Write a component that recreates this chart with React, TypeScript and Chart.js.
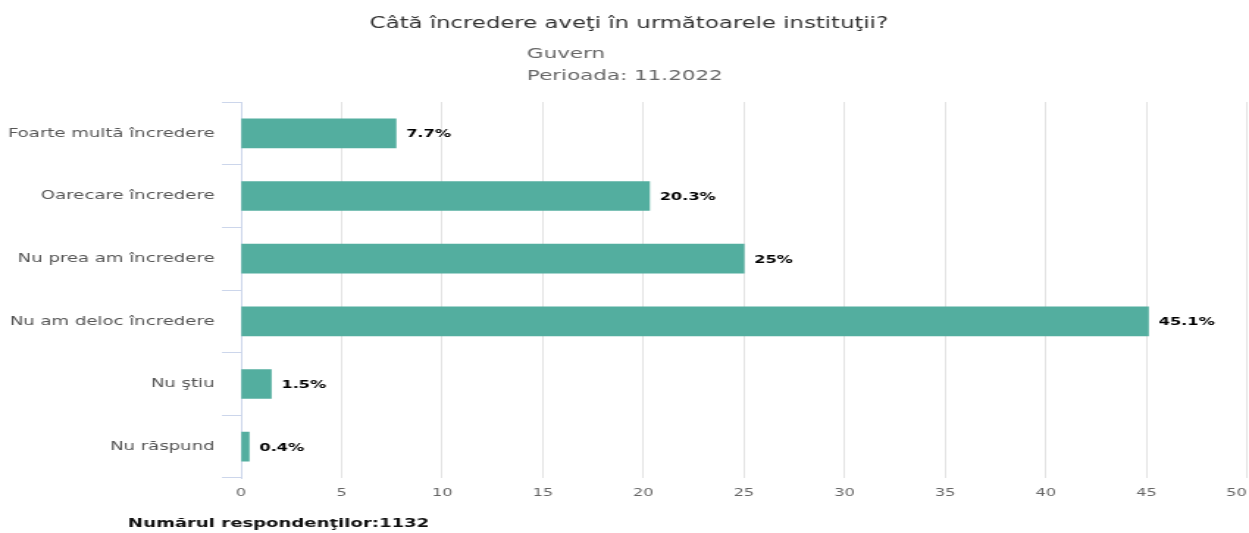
import React, { useEffect, useRef } from "react";
import { Chart, registerables } from "chart.js";

Chart.register(...registerables);

const titleText = "Câtă încredere aveţi în următoarele instituţii?";
const subtitleLines = ["Guvern", "Perioada: 11.2022"];
const footerText = "Numărul respondenţilor:1132";
const categories = [
  "Foarte multă încredere",
  "Oarecare încredere",
  "Nu prea am încredere",
  "Nu am deloc încredere",
  "Nu ştiu",
  "Nu răspund",
];
const values = [7.7, 20.3, 25, 45.1, 1.5, 0.4];
const xTickMin = 0;
const xTickMax = 50;
const xTickStep = 5;

// The reference is rendered horizontally stretched; we draw into a narrower
// buffer and stretch it with CSS.
const OUT_W = 1249;
const OUT_H = 533;
const BUF_W = 850;
const FONT = "'DejaVu Sans', Verdana, sans-serif";

const textPlugin = {
  id: "texts",
  afterDraw(chart: any) {
    const ctx = chart.ctx;
    ctx.save();
    ctx.textBaseline = "middle";
    // title
    ctx.font = `15.5px ${FONT}`;
    ctx.fillStyle = "#333333";
    ctx.textAlign = "center";
    ctx.fillText(titleText, 428, 24);
    // subtitle
    ctx.font = `14.6px ${FONT}`;
    ctx.fillStyle = "#666666";
    ctx.textAlign = "left";
    subtitleLines.forEach((l, i) => ctx.fillText(l, 358.6, 54 + i * 22));
    // footer
    ctx.font = `bold 12.3px ${FONT}`;
    ctx.fillStyle = "#111111";
    ctx.fillText(footerText, 87.1, 524);
    // data labels
    const meta = chart.getDatasetMeta(0);
    ctx.font = `bold 11px ${FONT}`;
    ctx.lineJoin = "round";
    meta.data.forEach((bar: any, i: number) => {
      const label = `${values[i]}%`;
      const x = bar.x + 7;
      const y = bar.y + 1;
      ctx.strokeStyle = "#ffffff";
      ctx.lineWidth = 2;
      ctx.strokeText(label, x, y);
      ctx.fillStyle = "#000000";
      ctx.fillText(label, x, y);
    });
    ctx.restore();
  },
};

export default function App() {
  const ref = useRef<HTMLCanvasElement | null>(null);
  useEffect(() => {
    if (!ref.current) return;
    const chart = new Chart(ref.current, {
      type: "bar",
      data: {
        labels: categories,
        datasets: [
          {
            data: values,
            backgroundColor: "#53ae9f",
            borderWidth: 0,
            barThickness: 29,
          },
        ],
      },
      plugins: [textPlugin],
      options: {
        indexAxis: "y",
        animation: false,
        responsive: false,
        devicePixelRatio: 1,
        events: [],
        layout: { padding: { top: 102, left: 0, right: 1.4, bottom: 0 } },
        plugins: {
          legend: { display: false },
          title: { display: false },
          tooltip: { enabled: false },
        },
        scales: {
          x: {
            type: "linear",
            min: xTickMin,
            max: xTickMax,
            ticks: {
              stepSize: xTickStep,
              color: "#666666",
              padding: 9,
              font: { family: FONT, size: 11 },
              // keep the last label inside the canvas, as in the reference
              callback: (v: any) => (v === xTickMax ? `${v}    ` : `${v}`),
            },
            grid: { color: "#e3e3e3", drawTicks: false },
            border: { display: false },
            afterFit(scale: any) {
              scale.height = 55;
              scale.paddingLeft = 0;
              scale.paddingRight = 0;
            },
          },
          y: {
            type: "category",
            offset: true,
            ticks: {
              color: "#555555",
              padding: 5,
              font: { family: FONT, size: 12.3 },
            },
            grid: {
              offset: true,
              drawOnChartArea: false,
              drawTicks: true,
              tickLength: 13,
              color: "#ccd6eb",
            },
            border: { display: true, color: "#ccd6eb" },
            afterFit(scale: any) {
              scale.width = 164;
            },
          },
        },
      },
    } as any);
    return () => chart.destroy();
  }, []);
  return (
    <div style={{ position: "fixed", left: 0, top: 0, width: OUT_W, height: OUT_H, background: "#fff" }}>
      <canvas
        ref={ref}
        width={BUF_W}
        height={OUT_H}
        style={{ width: `${OUT_W}px`, height: `${OUT_H}px`, display: "block" }}
      />
    </div>
  );
}
